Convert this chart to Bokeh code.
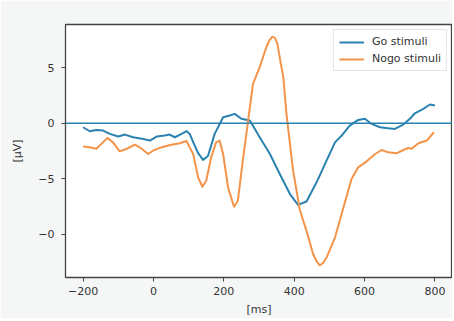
from bokeh.plotting import figure
from bokeh.models import Span, FixedTicker, Legend, LegendItem, Range1d
from bokeh.embed import file_html
from bokeh.resources import INLINE

go_t = [-200, -181, -162, -143, -124, -100, -81, -58, -29, -10, 9, 32, 46, 61, 80, 94,
        103, 113, 127, 141, 155, 174, 198, 217, 231, 250, 274, 302, 331, 359, 388, 411,
        435, 464, 492, 516, 535, 558, 582, 601, 620, 644, 667, 686, 710, 729, 743, 767,
        786, 800]
go_v = [-0.36, -0.72, -0.6, -0.66, -0.96, -1.2, -1.02, -1.26, -1.41, -1.56, -1.2, -1.1,
        -1.02, -1.26, -0.96, -0.7, -0.96, -1.7, -2.7, -3.3, -2.95, -0.96, 0.54, 0.7,
        0.85, 0.4, 0.24, -1.26, -2.77, -4.57, -6.38, -7.35, -7.05, -5.3, -3.37, -1.72,
        -1.11, -0.21, 0.3, 0.4, -0.06, -0.36, -0.45, -0.51, -0.12, 0.4, 0.9, 1.3, 1.69,
        1.6]

nogo_t = [-200, -181, -162, -148, -131, -115, -96, -77, -53, -39, -15, 2, 23, 51, 75, 94,
          103, 113, 127, 139, 150, 164, 178, 188, 198, 212, 229, 240, 254, 269, 283, 302,
          321, 330, 338, 345, 352, 363, 369, 378, 397, 416, 435, 454, 465, 473, 482, 492,
          516, 540, 563, 582, 606, 630, 649, 667, 691, 710, 724, 734, 753, 777, 797]
nogo_v = [-2.1, -2.17, -2.3, -1.86, -1.32, -1.72, -2.53, -2.32, -1.93, -2.17, -2.77,
          -2.41, -2.17, -1.93, -1.8, -1.6, -2.17, -2.77, -4.88, -5.72, -5.18, -3.07,
          -1.72, -1.56, -2.77, -5.78, -7.52, -6.98, -3.37, 0.24, 3.56, 5.06, 6.87, 7.5,
          7.8, 7.7, 7.2, 5.2, 4.2, 0.85, -4.27, -7.8, -9.7, -11.8, -12.5, -12.8, -12.6,
          -12.1, -10.3, -7.6, -5.03, -3.97, -3.43, -2.77, -2.41, -2.62, -2.71, -2.41,
          -2.23, -2.3, -1.8, -1.56, -0.81]

x_ticks = [-200, 0, 200, 400, 600, 800]
x_labels = ["\u2212200", "0", "200", "400", "600", "800"]
y_ticks = [5, 0, -5, -10]
y_labels = ["5", "0", "\u22125", "\u22120"]

BLUE = "#2a82b0"
ORANGE = "#f4944a"
FONT = "DejaVu Sans"

p = figure(width=452, height=318, output_backend="svg", toolbar_location=None,
           x_range=Range1d(-250, 850), y_range=Range1d(-13.9, 8.9),
           min_border_left=65, min_border_top=24, min_border_right=0, min_border_bottom=41)
p.border_fill_color = "#f5f7f7"
p.background_fill_color = "white"
p.outline_line_color = "#444444"
p.outline_line_width = 1.3
p.xgrid.visible = False
p.ygrid.visible = False

for ax in (p.xaxis[0], p.yaxis[0]):
    ax.axis_line_color = None
    ax.minor_tick_line_color = None
    ax.major_tick_in = 0
    ax.major_tick_out = 4
    ax.major_tick_line_color = "#444444"
    ax.major_label_text_font = FONT
    ax.major_label_text_font_size = "11px"
    ax.major_label_text_color = "#333333"
    ax.axis_label_text_font = FONT
    ax.axis_label_text_font_size = "11px"
    ax.axis_label_text_font_style = "normal"
    ax.axis_label_text_color = "#333333"

p.xaxis.ticker = FixedTicker(ticks=x_ticks)
p.xaxis.major_label_overrides = {t: l for t, l in zip(x_ticks, x_labels)}
p.yaxis.ticker = FixedTicker(ticks=y_ticks)
p.yaxis.major_label_overrides = {t: l for t, l in zip(y_ticks, y_labels)}
p.xaxis.axis_label = "[ms]"
p.yaxis.axis_label = "[\u00b5V]"
p.xaxis.major_label_standoff = 5
p.yaxis.major_label_standoff = 7
p.xaxis.axis_label_standoff = 5
p.yaxis.axis_label_standoff = 11

p.add_layout(Span(location=0, dimension="width", line_color=BLUE, line_width=1.5))

r_go = p.line(go_t, go_v, line_color=BLUE, line_width=2, line_join="round")
r_nogo = p.line(nogo_t, nogo_v, line_color=ORANGE, line_width=2, line_join="round")

legend = Legend(items=[LegendItem(label="Go stimuli", renderers=[r_go]),
                       LegendItem(label="Nogo stimuli", renderers=[r_nogo])],
                location="top_right", label_text_font=FONT, label_text_font_size="11px",
                label_text_color="#333333", border_line_color="#cccccc",
                background_fill_alpha=0.9, glyph_width=25, glyph_height=12,
                label_height=12, spacing=4, padding=5, margin=5, label_standoff=8)
p.add_layout(legend)

open("out.html", "w").write(file_html(p, INLINE))
